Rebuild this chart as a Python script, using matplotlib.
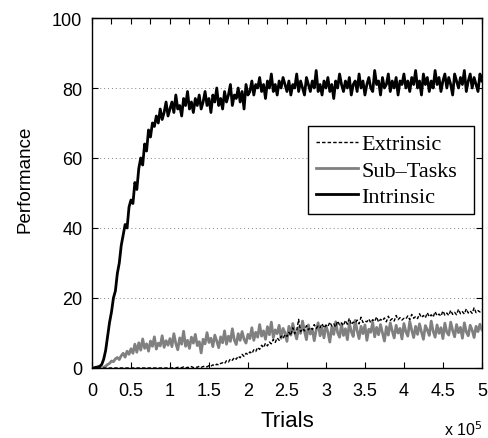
import numpy as np
import matplotlib
matplotlib.use('Agg')
import matplotlib.pyplot as plt
from matplotlib.ticker import FuncFormatter, MultipleLocator

plt.rcParams['font.family'] = 'Liberation Sans'

# performance curves, one sample every 2500 trials (0 .. 5e5)
intrinsic = [
    0, 0, 0.2, 0.3, 0.5,
    1, 2.5, 5, 9, 13, 16, 20, 22, 27, 30, 35, 38, 41, 40, 46, 48, 47, 53, 51, 57,
    60, 58, 64, 62, 68, 66, 70, 69, 72, 70, 74, 71, 73, 76, 72, 74,
    76, 73, 78, 74, 75, 72, 77, 75, 79, 74, 76, 73, 77, 75, 78, 74, 76, 79, 75, 77,
    73, 78, 76, 80, 75, 77, 74, 79, 76, 78, 81, 75, 78, 77, 80, 76, 79, 74, 81, 78,
    79, 82, 78, 81, 80, 83, 79, 81, 77, 82, 80, 84, 79, 81, 78, 82, 80, 83, 81, 79,
    82, 78, 81, 80, 84, 79, 82, 80, 78, 83, 81, 79, 82, 80, 85, 79, 81, 78, 82, 80,
    83, 79, 81, 77, 82, 80, 84, 81, 79, 82, 80, 83, 78, 81, 82, 79, 84, 80, 82, 78,
    81, 83, 80, 79, 85, 81, 82, 78, 83, 80, 81, 84, 79, 82, 80, 83, 78, 82, 81, 84,
    80, 82, 79, 83, 81, 85, 80, 82, 78, 84, 81, 83, 79, 82, 80, 85, 81, 83, 79, 82,
    84, 80, 83, 81, 78, 84, 82, 80, 83, 81, 85, 79, 82, 84, 80, 83, 81, 79, 84, 82,
]

subtasks = [
    0, 0, 0, 0, 0, 0, 0.2, 0.5,
    1, 1.3, 2, 1.8, 2.6, 3, 2.4, 3.5, 4.2, 3.1, 4.8, 3.9, 5.5,
    4.2, 6.8, 4.5, 7.2, 5.1, 8.3, 5.6, 6.9, 4.8, 7.7, 6.2, 8.9, 5.4, 7.1, 6.3, 9.2, 5.9, 7.8, 6.5, 8.4,
    6.1, 9.8, 7.0, 5.2, 8.6, 6.8, 10.5, 6.2, 7.9, 5.6, 8.8, 7.1, 9.6, 6.4, 7.5, 4.3, 8.2, 6.9, 10.1, 7.3,
    8.5, 6.1, 9.4, 7.7, 5.8, 8.9, 7.2, 10.6, 6.8, 9.1, 7.6, 11.2, 8.0, 6.7, 9.8, 7.9, 10.4, 8.2, 7.1, 9.6,
    8.4, 11.5, 7.9, 10.2, 8.8, 12.4, 9.1, 10.6, 8.2, 11.8, 9.5, 13.1, 8.7, 10.9, 9.8, 12.2, 8.5, 11.3, 10.1, 7.6,
    11.9, 9.4, 12.7, 10.2, 8.3, 11.6, 9.9, 13.4, 10.5, 8.1, 12.3, 9.7, 11.1, 7.8, 10.8, 12.9, 9.2, 11.4, 8.6, 12.1,
    10.3, 7.4, 11.7, 9.6, 13.2, 10.1, 8.8, 12.5, 9.3, 11.2, 8.1, 12.8, 10.4, 9.0, 13.6, 10.7, 8.4, 11.9, 9.8, 12.3,
    7.9, 11.1, 10.2, 13.0, 8.9, 11.6, 9.5, 12.4, 10.1, 7.7, 11.8, 9.4, 12.9, 10.6, 8.6, 12.2, 10.0, 11.3, 8.3, 12.7,
    10.4, 9.1, 13.3, 10.8, 8.7, 11.9, 9.6, 12.6, 10.3, 8.2, 12.1, 10.9, 9.3, 13.4, 10.5, 8.8, 12.3, 9.9, 11.5, 8.4,
    12.8, 10.2, 9.4, 13.1, 10.7, 8.9, 12.4, 10.1, 11.6, 8.5, 12.9, 10.3, 9.2, 12.2, 10.8, 8.7, 11.9, 10.4, 12.5, 10.9,
]

extrinsic = [0] * 41 + [
    0, 0.1, 0, 0.2, 0, 0.1, 0.3, 0, 0.2, 0.1, 0.4, 0.1, 0.3, 0.2, 0.5, 0.2, 0.4, 0.6, 0.3, 0.7,
    0.5, 0.9, 0.6, 1.1, 0.8, 1.3,
    1.5, 1.2, 2.1, 1.7, 2.6, 2.2, 3.0, 2.5, 3.4, 2.9, 3.9, 3.3, 4.2, 3.8,
    4.6, 4.1, 5.2, 4.7, 5.9, 5.3, 6.5, 5.8, 7.1, 6.3, 7.4, 6.9, 8.2, 7.3, 8.6, 7.9, 9.1, 8.4, 9.6, 9.0,
    10.2, 9.3, 11.5, 9.8, 10.7, 13.9, 10.4, 11.2, 10.6, 12.1, 10.9, 11.6, 11.0, 12.4, 11.3, 12.0, 11.5, 12.7, 11.4, 12.2,
    11.8, 13.1, 12.0, 12.6, 11.7, 13.4, 12.3, 12.9, 12.1, 13.6, 12.5, 14.2, 12.4, 13.1, 12.8, 13.7, 12.6, 14.5, 13.0, 13.4,
    13.2, 14.0, 12.9, 13.8, 13.3, 14.6, 13.1, 13.9, 13.5, 14.3, 13.2, 14.8, 13.6, 14.1, 13.4, 15.0, 13.8, 14.4, 13.7, 14.2,
    14.0, 14.9, 13.8, 15.3, 14.2, 14.7, 14.1, 15.5, 14.4, 15.0, 14.3, 15.8, 14.6, 15.2, 14.5, 16.1, 14.9, 15.4, 14.8, 16.3,
    15.1, 15.7, 15.0, 16.5, 15.3, 15.9, 15.2, 16.8, 15.5, 16.1, 15.4, 16.9, 15.7, 16.3, 15.6, 17.2, 15.8, 16.4, 16.0, 16.6,
]

t_int = np.linspace(0, 5e5, len(intrinsic))
t_sub = np.linspace(0, 5e5, len(subtasks))
t_ext = np.linspace(0, 5e5, len(extrinsic))

fig = plt.figure(figsize=(4.88, 4.39), dpi=100)
ax = fig.add_axes([0.1885, 0.1595, 0.799, 0.7972])

ax.plot(t_ext, extrinsic, '--', color='black', lw=1.0, label='Extrinsic', zorder=4,
        dashes=(2.5, 1.5))
ax.plot(t_sub, subtasks, color='#808080', lw=2.0, label='Sub\u2013Tasks', zorder=3)
ax.plot(t_int, intrinsic, color='black', lw=2.0, label='Intrinsic', zorder=5)

ax.set_xlim(0, 5e5)
ax.set_ylim(0, 100)
ax.xaxis.set_major_locator(MultipleLocator(0.5e5))
ax.yaxis.set_major_locator(MultipleLocator(20))
ax.xaxis.set_major_formatter(FuncFormatter(lambda v, p: f'{v / 1e5:g}'))

ax.yaxis.grid(True, linestyle=(0, (1, 3)), color='#808080', lw=0.7)
ax.set_axisbelow(True)
ax.tick_params(direction='in', top=False, right=True, length=4, width=0.8,
               labelsize=13)
ax.tick_params(axis='x', pad=10)
ax.tick_params(axis='y', pad=7)
for s in ax.spines.values():
    s.set_linewidth(1.0)

# top edge carries ticks at every 0.25e5
top = ax.secondary_xaxis('top')
top.xaxis.set_major_locator(MultipleLocator(0.25e5))
top.tick_params(direction='in', length=4, width=0.8, labeltop=False)

ax.set_xlabel('Trials', fontsize=16, labelpad=8)
ax.set_ylabel('Performance', fontsize=13.5)
ax.yaxis.set_label_coords(-0.151, 0.543)
ax.text(1.0, -0.172, r'x 10$^5$', transform=ax.transAxes, ha='right', va='center',
        fontsize=11.5)

leg = ax.legend(loc='upper left', bbox_to_anchor=(0.554, 0.591, 0.425, 0.1),
                mode='expand', borderaxespad=0,
                fancybox=False, edgecolor='black', framealpha=1,
                prop={'family': 'Liberation Serif', 'size': 16},
                handlelength=1.9, handletextpad=0.15, labelspacing=0.25,
                borderpad=0.35)
leg.get_frame().set_linewidth(1.0)

fig.savefig('out.png', dpi=100)
